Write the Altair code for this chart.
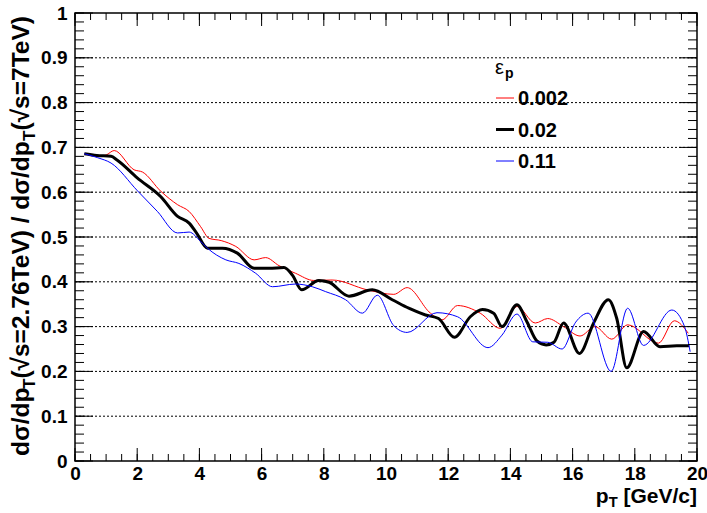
import altair as alt
import pandas as pd

# ---------------- data ----------------
eps_labels = ["0.002", "0.02", "0.11"]
line_colors = ["#ff0000", "#000000", "#0000ff"]
line_widths = [1.0, 3.0, 1.0]

pt_002 = [0.3, 0.73, 1.0, 1.26, 1.9, 2.17, 2.76, 3.3, 3.67, 4.04, 4.31, 4.7, 5.17,
          5.76, 6.13, 6.56, 7.09, 7.68, 8.27, 9.4, 10.25, 10.68, 11.43, 11.8, 12.3,
          13.03, 13.68, 14.21, 14.8, 15.2, 15.71, 16.24, 16.72, 17.26, 17.77, 18.76,
          19.27, 19.72]
ratio_002 = [0.686, 0.680, 0.683, 0.693, 0.650, 0.645, 0.602, 0.572, 0.557, 0.523,
             0.497, 0.492, 0.479, 0.449, 0.454, 0.436, 0.419, 0.403, 0.404, 0.382,
             0.372, 0.387, 0.330, 0.315, 0.347, 0.330, 0.296, 0.345, 0.308, 0.318,
             0.300, 0.279, 0.300, 0.272, 0.304, 0.263, 0.313, 0.285]

pt_02 = [0.3, 0.7, 1.16, 1.35, 2.0, 2.76, 3.3, 3.67, 3.9, 4.26, 4.74, 5.22, 5.76,
         6.24, 6.72, 6.99, 7.29, 7.84, 8.17, 8.81, 9.56, 10.2, 10.73, 11.27, 11.69,
         12.2, 12.71, 13.1, 13.46, 13.73, 14.21, 14.53, 14.85, 15.15, 15.4, 15.71,
         16.22, 16.67, 17.15, 17.42, 17.74, 18.28, 18.81, 19.35, 19.75]
ratio_02 = [0.686, 0.682, 0.680, 0.672, 0.632, 0.590, 0.546, 0.531, 0.510, 0.475,
            0.475, 0.464, 0.430, 0.430, 0.432, 0.415, 0.382, 0.403, 0.399, 0.368,
            0.382, 0.360, 0.341, 0.326, 0.318, 0.276, 0.322, 0.338, 0.330, 0.300,
            0.349, 0.311, 0.268, 0.259, 0.265, 0.308, 0.240, 0.307, 0.360, 0.318,
            0.208, 0.289, 0.255, 0.257, 0.257]

pt_011 = [0.3, 0.73, 1.16, 2.01, 2.65, 3.3, 3.67, 4.04, 4.26, 4.85, 5.27, 5.81,
          6.35, 7.09, 7.63, 8.06, 8.7, 9.24, 9.72, 10.25, 10.68, 11.64, 12.3, 13.28,
          13.73, 14.21, 14.72, 15.2, 15.66, 16.1, 16.5, 17.24, 17.77, 18.28, 19.19,
          19.6, 19.78]
ratio_011 = [0.686, 0.677, 0.665, 0.603, 0.557, 0.509, 0.511, 0.490, 0.475, 0.449,
             0.441, 0.419, 0.389, 0.395, 0.389, 0.378, 0.360, 0.330, 0.370, 0.302,
             0.287, 0.331, 0.322, 0.253, 0.281, 0.328, 0.266, 0.265, 0.250, 0.310,
             0.330, 0.200, 0.341, 0.258, 0.337, 0.300, 0.244]

x_ticks_major = list(range(0, 21, 2))
x_ticks_minor = [i * 0.5 for i in range(41)]
y_ticks_major = [round(i * 0.1, 1) for i in range(11)]
y_ticks_minor = [round(i * 0.02, 2) for i in range(51)]
grid_levels = y_ticks_major[1:-1]

# ---------------- layout ----------------
W, H = 622, 448
FONT = "Liberation Sans"
xs = alt.Scale(domain=[0, 20], nice=False, zero=False)
ys = alt.Scale(domain=[0, 1], nice=False, zero=False)
one = pd.DataFrame({"d": [0]})

X_AX = alt.Axis(values=x_ticks_major, title=None, ticks=False, domain=False, grid=False,
                labelFont=FONT, labelFontWeight="bold", labelFontSize=19,
                labelColor="black", labelPadding=3, labelFlush=False)
Y_AX = alt.Axis(values=y_ticks_major, title=None, ticks=False, domain=False, grid=False,
                labelFont=FONT, labelFontWeight="bold", labelFontSize=19,
                labelColor="black", labelPadding=8, labelFlush=False,
                labelExpr="datum.value == 0 ? '0' : (datum.value == 1 ? '1' : format(datum.value, '.1f'))")

def X(f):
    return alt.X(f, scale=xs, axis=X_AX)

def Y(f):
    return alt.Y(f, scale=ys, axis=Y_AX)

series = [(pt_002, ratio_002), (pt_02, ratio_02), (pt_011, ratio_011)]

layers = []

# dotted horizontal grid
layers.append(
    alt.Chart(pd.DataFrame({"g": grid_levels}))
    .mark_rule(color="black", strokeWidth=1, strokeDash=[2, 2])
    .encode(y=Y("g:Q"))
)

# curves
for i, (px, py) in enumerate(series):
    df = pd.DataFrame({"pT": px, "ratio": py})
    layers.append(
        alt.Chart(df).mark_line(color=line_colors[i], strokeWidth=line_widths[i],
                                interpolate="monotone")
        .encode(x=X("pT:Q"), y=Y("ratio:Q"), order="pT:Q")
    )

# inward ticks on all four sides
def yticks(vals, length):
    d = pd.DataFrame({"v": vals})
    left = alt.Chart(d).mark_rule(color="black", strokeWidth=1).encode(
        y=Y("v:Q"), x=alt.value(0), x2=alt.value(length))
    right = alt.Chart(d).mark_rule(color="black", strokeWidth=1).encode(
        y=Y("v:Q"), x=alt.value(W - length), x2=alt.value(W))
    return [left, right]

def xticks(vals, length):
    d = pd.DataFrame({"v": vals})
    bottom = alt.Chart(d).mark_rule(color="black", strokeWidth=1).encode(
        x=X("v:Q"), y=alt.value(H - length), y2=alt.value(H))
    top = alt.Chart(d).mark_rule(color="black", strokeWidth=1).encode(
        x=X("v:Q"), y=alt.value(0), y2=alt.value(length))
    return [bottom, top]

layers += yticks(y_ticks_major, 18) + yticks(y_ticks_minor, 9)
layers += xticks(x_ticks_major, 13) + xticks(x_ticks_minor, 7)

# ---------------- text helpers ----------------
EM = {'d': .611, 'σ': .62, '/': .278, 'p': .611, 'T': .611, '(': .333, ')': .333,
      '√': .549, 's': .556, '=': .584, '2': .556, '.': .278, '7': .556, '6': .556,
      'e': .556, 'V': .667, ' ': .278, '[': .333, ']': .333, 'G': .778, 'c': .556}

def tw(s, size):
    return sum(EM.get(c, .556) for c in s) * size

def txt(s, x, y, size, align="left", angle=0, weight="bold"):
    kw = dict(text=s, align=align, baseline="middle", font=FONT, fontSize=size,
              fontWeight=weight, color="black")
    if angle:
        kw["angle"] = angle
    return alt.Chart(one).mark_text(**kw).encode(x=alt.value(x), y=alt.value(y))

# y title (rotated, reading bottom -> top)
FY = 24.5
SUB = 0.7
ytitle = [("dσ/dp", False), ("T", True), ("(√s=2.76TeV) / dσ/dp", False),
          ("T", True), (" (√s=7TeV)", False)]
ycur = 443
xc = -53
for s, sub in ytitle:
    size = FY * SUB if sub else FY
    layers.append(txt(s, xc + (0.33 * FY if sub else 0), ycur, size, angle=270))
    ycur -= tw(s, size)

# x title
FX = 21
xr = W
layers.append(txt("[GeV/c]", xr, 484, FX, align="right"))
xr -= tw("[GeV/c]", FX) + tw(" ", FX)
layers.append(txt("T", xr, 490, FX * SUB, align="right"))
xr -= tw("T", FX * SUB)
layers.append(txt("p", xr, 484, FX, align="right"))

# legend
layers.append(txt("ε", 420, 55, 20, weight="normal"))
layers.append(txt("p", 430, 61, 14))
for i, lab in enumerate(eps_labels):
    yy = 85 + 31.5 * i
    layers.append(
        alt.Chart(one).mark_rule(color=line_colors[i], strokeWidth=line_widths[i])
        .encode(x=alt.value(421), x2=alt.value(439), y=alt.value(yy)))
    layers.append(txt(lab, 443, yy + 1, 20))

chart = (
    alt.layer(*layers)
    .properties(width=W, height=H,
                autosize=alt.AutoSizeParams(type="none"),
                padding={"left": 75, "top": 13, "right": 10, "bottom": 52},
                background="white")
    .configure_view(stroke="black", strokeWidth=1.5)
)

chart.save("out.html", embed_options={"renderer": "svg", "actions": False})
